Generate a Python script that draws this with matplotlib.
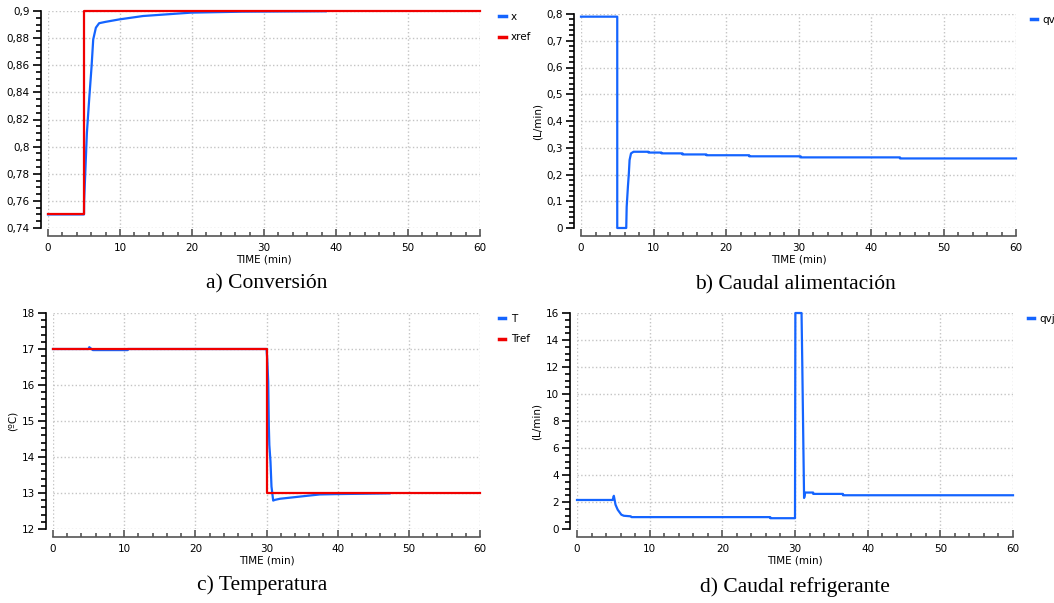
import numpy as np
import matplotlib.pyplot as plt
from matplotlib.ticker import MultipleLocator, AutoMinorLocator, FuncFormatter

# a) Conversion
t_x = [0, 5, 5.02, 5.4, 5.72, 6.05, 6.28, 6.65, 7.1, 8.0, 9.9, 13.2, 16.4, 19.9, 27.0, 38.6]
x = [0.75, 0.75, 0.760, 0.81, 0.835, 0.859, 0.879, 0.8877, 0.891, 0.892, 0.8938, 0.8963, 0.8975, 0.8988, 0.8995, 0.8998]
t_xref = [0, 5, 5, 60]
xref = [0.75, 0.75, 0.9, 0.9]

# b) Caudal alimentacion
t_qv = [0, 5, 5, 6.24, 6.3, 6.47, 6.6, 6.7, 6.9, 7.25, 9.3, 9.3, 11.1, 11.1, 14, 14,
        17.3, 17.3, 23.2, 23.2, 30.3, 30.3, 44, 44, 60]
qv = [0.79, 0.79, 0.0, 0.0, 0.079, 0.154, 0.204, 0.254, 0.279, 0.285, 0.285, 0.282, 0.282,
      0.279, 0.279, 0.275, 0.275, 0.272, 0.272, 0.268, 0.268, 0.264, 0.264, 0.26, 0.26]

# c) Temperatura
t_T = [0, 5.0, 5.1, 5.6, 10.5, 10.5, 30.0, 30.1, 30.24, 30.33, 30.4, 30.56, 30.7, 30.94,
       31.2, 31.9, 33.75, 35.6, 37.5, 40.0, 47.3]
T = [17.0, 17.0, 17.05, 16.97, 16.97, 17.0, 17.0, 16.74, 16.09, 14.84, 14.33, 13.87, 13.18,
     12.79, 12.81, 12.84, 12.88, 12.92, 12.96, 12.97, 12.99]
t_Tref = [0, 30, 30, 60]
Tref = [17, 17, 13, 13]

# d) Caudal refrigerante
t_qvj = [0, 4.9, 5.07, 5.3, 5.6, 6.1, 6.45, 7.4, 7.5, 26.6, 26.6, 30.0, 30.05, 30.9, 31.0,
         31.15, 31.25, 31.3, 31.4, 32.5, 32.5, 36.6, 36.6, 60]
qvj = [2.15, 2.15, 2.46, 1.8, 1.43, 1.06, 0.98, 0.94, 0.88, 0.88, 0.8, 0.8, 16.0, 16.0, 12.3,
       6.2, 2.3, 2.4, 2.7, 2.7, 2.6, 2.6, 2.5, 2.5]

BLUE = '#1464ff'
RED = '#f00000'
W, H = 1054, 603

fig = plt.figure(figsize=(W / 100, H / 100), dpi=100)


def px_axes(x0, x1, ytop, ybot):
    return fig.add_axes([x0 / W, 1 - ybot / H, (x1 - x0) / W, (ybot - ytop) / H])


def style(ax, ylim, ymaj, yminor, ylabel=None, leg_x=1.035):
    ax.set_xlim(0, 60)
    ax.set_ylim(*ylim)
    ax.xaxis.set_major_locator(MultipleLocator(10))
    ax.xaxis.set_minor_locator(AutoMinorLocator(5))
    ax.yaxis.set_major_locator(MultipleLocator(ymaj))
    ax.yaxis.set_minor_locator(AutoMinorLocator(yminor))
    # comas decimales
    ax.yaxis.set_major_formatter(FuncFormatter(lambda v, p: ('%g' % round(v, 4)).replace('.', ',')))
    for s in ['top', 'right']:
        ax.spines[s].set_visible(False)
    ax.spines['left'].set_position(('outward', 5))
    ax.spines['bottom'].set_position(('outward', 6))
    ax.spines['left'].set_linewidth(1.2)
    ax.spines['bottom'].set_linewidth(1.2)
    ax.spines['bottom'].set_color('#555555')
    ax.tick_params(axis='y', which='major', direction='out', length=6, width=1.2, labelsize=7.5, pad=2)
    ax.tick_params(axis='y', which='minor', direction='out', length=3.5, width=1.2)
    ax.tick_params(axis='x', which='major', direction='in', length=5, width=1.2,
                   color='#555555', labelsize=7.5, pad=5)
    ax.tick_params(axis='x', which='minor', direction='in', length=3, width=1.2, color='#555555')
    ax.grid(True, which='major', color='#c4c4c4', linestyle=':', linewidth=1)
    ax.set_xlabel('TIME (min)', fontsize=7.5, labelpad=1)
    if ylabel:
        ax.set_ylabel(ylabel, fontsize=7.5, labelpad=3)
    for ln in ax.get_lines():
        ln.set_clip_on(False)
    leg = ax.legend(loc='upper left', bbox_to_anchor=(leg_x, 1.015), frameon=False, fontsize=7.5,
                    handlelength=0.6, handletextpad=0.5, labelspacing=1.0, borderaxespad=0)
    for h in leg.legend_handles:
        h.set_linewidth(2.5)


ax_a = px_axes(48, 480, 11, 228)
ax_a.plot(t_x, x, color=BLUE, lw=1.6, label='x')
ax_a.plot(t_xref, xref, color=RED, lw=1.6, label='xref')
style(ax_a, (0.74, 0.9), 0.02, 4)

ax_b = px_axes(581, 1016, 14, 228)
ax_b.plot(t_qv, qv, color=BLUE, lw=1.6, label='qv')
style(ax_b, (0, 0.8), 0.1, 5, '(L/min)', leg_x=1.025)

ax_c = px_axes(53, 480, 313, 529)
ax_c.plot(t_T, T, color=BLUE, lw=1.6, label='T')
ax_c.plot(t_Tref, Tref, color=RED, lw=1.6, label='Tref')
style(ax_c, (12, 18), 1, 5, '(ºC)')

ax_d = px_axes(577, 1013, 313, 529)
ax_d.plot(t_qvj, qvj, color=BLUE, lw=1.6, label='qvj')
style(ax_d, (0, 16), 2, 4, '(L/min)', leg_x=1.025)

cap = dict(fontsize=15.5, family='Liberation Serif', ha='center', va='center')
fig.text(267 / W, 1 - 284 / H, 'a) Conversión', **cap)
fig.text(795 / W, 1 - 285 / H, 'b) Caudal alimentación', **cap)
fig.text(262 / W, 1 - 585 / H, 'c) Temperatura', **cap)
fig.text(795 / W, 1 - 587 / H, 'd) Caudal refrigerante', **cap)

fig.savefig('out.png', dpi=100)
